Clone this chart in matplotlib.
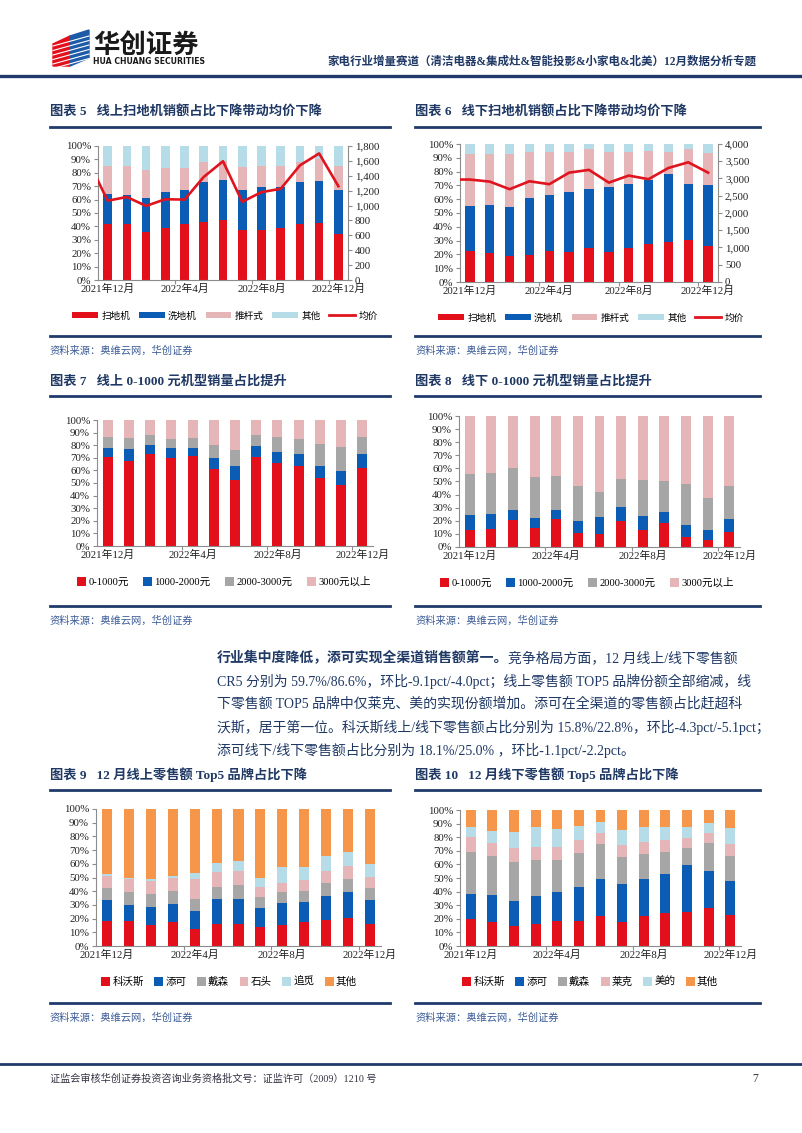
import matplotlib
matplotlib.use('Agg')
import matplotlib.pyplot as plt
import numpy as np
from matplotlib.patches import Polygon, Patch
from matplotlib.lines import Line2D
from matplotlib.font_manager import FontProperties

plt.rcParams['font.family'] = ['Noto Sans CJK SC', 'DejaVu Sans']

# ---------------- data ----------------
months = ['2021年12月', '2022年1月', '2022年2月', '2022年3月', '2022年4月', '2022年5月',
          '2022年6月', '2022年7月', '2022年8月', '2022年9月', '2022年10月', '2022年11月',
          '2022年12月']
tick_idx = [0, 4, 8, 12]

# Fig 5: online robot-vacuum category share of sales value (%) and avg price
cat_labels = ['扫地机', '洗地机', '推杆式', '其他']
on_sweep = [41.8, 41.8, 36.0, 38.5, 41.5, 43.3, 44.5, 37.5, 37.5, 38.8, 41.5, 42.8, 34.6]
on_mop = [22.4, 21.9, 25.2, 26.9, 25.4, 29.6, 29.9, 29.7, 31.9, 30.6, 31.9, 31.1, 32.6]
on_stick = [20.6, 21.1, 20.6, 18.4, 16.7, 15.1, 14.6, 17.1, 15.9, 15.6, 14.6, 16.6, 17.6]
on_other = [15.2, 15.2, 18.2, 16.2, 16.4, 12.0, 11.0, 15.7, 14.7, 15.0, 12.0, 9.5, 15.2]
# first value = 2021年11月 (partly visible at the left edge)
on_price = [1600, 1065, 1115, 995, 1085, 1080, 1385, 1595, 1050, 1180, 1225, 1540, 1700, 1260]

# Fig 6: offline
off_sweep = [22.7, 20.7, 18.6, 19.5, 22.7, 21.9, 24.8, 21.9, 24.8, 27.7, 28.7, 30.6, 26.3]
off_mop = [32.7, 35.2, 35.9, 41.7, 40.2, 43.4, 42.7, 47.3, 46.3, 46.3, 49.3, 40.5, 44.3]
off_stick = [37.6, 37.1, 38.3, 33.0, 31.3, 28.9, 28.9, 25.0, 23.1, 21.0, 16.2, 25.0, 22.9]
off_other = [7.0, 7.0, 7.2, 5.8, 5.8, 5.8, 3.6, 5.8, 5.8, 5.0, 5.8, 3.9, 6.5]
off_price = [2970, 2970, 2910, 2690, 2920, 2835, 3170, 3250, 2880, 3085, 2980, 3305, 3470, 3170]

# Fig 7 / 8: price-band share of sales volume (%)
band_labels = ['0-1000元', '1000-2000元', '2000-3000元', '3000元以上']
on_b1 = [70.6, 67.4, 72.7, 70.0, 71.4, 61.3, 52.5, 70.3, 65.5, 63.4, 54.1, 48.3, 61.8]
on_b2 = [7.4, 9.8, 7.7, 7.7, 6.6, 8.5, 11.2, 8.7, 8.8, 9.5, 9.6, 11.6, 11.4]
on_b3 = [8.7, 8.7, 7.6, 7.4, 7.9, 10.3, 12.4, 8.8, 11.9, 12.0, 16.9, 18.9, 13.0]
on_b4 = [13.3, 14.1, 12.0, 14.9, 14.1, 19.9, 23.9, 12.2, 13.8, 15.1, 19.4, 21.2, 13.8]

off_b1 = [12.8, 14.0, 20.7, 14.8, 21.2, 11.0, 10.2, 19.9, 13.0, 18.4, 7.7, 5.1, 11.7]
off_b2 = [11.7, 11.3, 7.9, 7.6, 7.4, 8.6, 12.8, 11.0, 11.0, 8.1, 9.4, 7.9, 10.0]
off_b3 = [30.9, 31.1, 31.6, 31.2, 25.5, 26.8, 19.3, 20.9, 27.5, 24.0, 30.9, 24.5, 24.5]
off_b4 = [44.6, 43.6, 39.8, 46.4, 45.9, 53.6, 57.7, 48.2, 48.5, 49.5, 52.0, 62.5, 53.8]

# Fig 9: online top5 brand share of retail value (%)
on_brand_labels = ['科沃斯', '添可', '戴森', '石头', '追觅', '其他']
on_ecovacs = [18.2, 18.2, 15.3, 17.3, 12.2, 16.3, 16.1, 13.9, 15.6, 17.3, 19.0, 20.1, 15.8]
on_tineco = [15.1, 11.7, 13.4, 13.4, 13.3, 18.0, 18.0, 14.1, 15.5, 14.8, 17.7, 19.2, 18.1]
on_dyson = [9.0, 9.8, 9.3, 9.4, 8.6, 8.5, 10.4, 8.0, 8.3, 8.3, 9.0, 9.8, 8.4]
on_roborock = [8.8, 9.0, 9.2, 9.5, 14.6, 11.0, 10.5, 6.8, 6.8, 8.0, 9.0, 9.5, 7.8]
on_dreame = [1.2, 0.9, 1.5, 1.5, 4.6, 6.8, 7.0, 6.8, 11.5, 9.3, 11.2, 10.2, 9.6]
on_others = [47.7, 50.4, 51.3, 48.9, 46.7, 39.4, 38.0, 50.4, 42.3, 42.3, 34.1, 31.2, 40.3]

# Fig 10: offline top5 brand share of retail value (%)
off_brand_labels = ['科沃斯', '添可', '戴森', '莱克', '美的', '其他']
off_ecovacs = [19.9, 17.9, 14.7, 16.2, 18.2, 18.7, 22.1, 17.7, 21.9, 24.6, 25.3, 27.9, 22.8]
off_tineco = [18.2, 19.4, 18.2, 20.7, 21.4, 25.0, 27.0, 28.2, 27.0, 28.2, 34.4, 27.2, 25.0]
off_dyson = [31.2, 28.8, 28.8, 26.7, 23.3, 24.6, 25.8, 19.5, 18.9, 16.5, 12.3, 20.8, 18.3]
off_lexy = [10.8, 9.8, 10.0, 8.9, 10.1, 9.6, 7.9, 8.6, 8.4, 8.3, 7.4, 7.4, 8.6]
off_midea = [7.1, 8.6, 12.3, 15.2, 13.2, 10.3, 8.4, 11.3, 11.3, 9.6, 8.1, 7.3, 11.9]
off_others = [12.8, 15.5, 16.0, 12.3, 13.8, 11.8, 8.8, 14.7, 12.5, 12.8, 12.5, 9.4, 13.4]

# ---------------- style ----------------
RED = '#E3101B'
BLUE = '#0B5CB5'
PINK = '#E6B5B8'
LBLUE = '#B5DCE7'
GRAY = '#A6A6A6'
ORANGE = '#F5964A'
LINE_RED = '#E0141E'
NAVY = '#1F3A6B'
TXT = '#1F3864'
NUM_FONT = ['Liberation Serif', 'Noto Sans CJK SC']
AXC = '#8C8C8C'

W, H = 802, 1133
fig = plt.figure(figsize=(W / 100, H / 100), dpi=100)
fig.patch.set_facecolor('white')


def fx(x):
    return x / W


def fy(y):
    return 1 - y / H


def add_ax(l, t, r, b):
    return fig.add_axes([fx(l), fy(b), fx(r - l), (b - t) / H])


def hline(x0, x1, y, lw=1.6, color=NAVY):
    fig.add_artist(Line2D([fx(x0), fx(x1)], [fy(y), fy(y)], color=color, lw=lw,
                          transform=fig.transFigure))


def style_axes(ax):
    for s in ['top', 'right']:
        ax.spines[s].set_visible(False)
    for s in ['left', 'bottom']:
        ax.spines[s].set_color(AXC)
        ax.spines[s].set_linewidth(0.8)
    ax.set_ylim(0, 100)
    ax.set_yticks(np.arange(0, 101, 10))
    ax.set_yticklabels([f'{v}%' for v in range(0, 101, 10)], fontfamily=NUM_FONT,
                       fontsize=7.8, color='#222222')
    ax.set_xlim(-0.5, len(months) - 0.5)
    ax.set_xticks([3.5, 7.5, 11.5])
    ax.set_xticklabels([])
    ax.set_xticks(tick_idx, minor=True)
    ax.set_xticklabels([months[i] for i in tick_idx], minor=True, fontfamily=NUM_FONT,
                       fontsize=7.8, color='#222222')
    ax.tick_params(axis='x', which='minor', length=0, pad=3)
    ax.tick_params(axis='x', which='major', length=3, color=AXC, width=0.8)
    ax.tick_params(axis='y', length=3, color=AXC, width=0.8, pad=2)


def stacked(ax, series, colors, labels, width):
    x = np.arange(len(months))
    bottom = np.zeros(len(months))
    handles = []
    for vals, c, lab in zip(series, colors, labels):
        v = np.array(vals, dtype=float)
        ax.bar(x, v, width, bottom=bottom, color=c, linewidth=0, zorder=2)
        handles.append(Patch(facecolor=c, edgecolor='none', label=lab))
        bottom += v
    style_axes(ax)
    return handles


def legend(handles, cx, cy, square=True, colsp=1.4, size=7.6):
    prop = FontProperties(family=NUM_FONT, size=size)
    if square:
        kw = dict(handlelength=0.85, handleheight=0.85, handletextpad=0.2)
    else:
        kw = dict(handlelength=2.7, handleheight=0.65, handletextpad=0.35)
    fig.legend(handles=handles, loc='center', bbox_to_anchor=(fx(cx), fy(cy)),
               ncol=len(handles), frameon=False, prop=prop,
               columnspacing=colsp, borderaxespad=0, **kw)


def title(x, y, text, x1):
    fig.text(fx(x), fy(y), text, fontsize=9.5, fontweight='bold', color=TXT,
             family=NUM_FONT, va='center', ha='left')
    hline(x, x1, y + 15, lw=2.0)


def source(x, y, x1):
    hline(x, x1, y - 15, lw=2.0)
    fig.text(fx(x), fy(y), '资料来源：奥维云网，华创证券', fontsize=7.4, color='#3A5A95',
             va='center', ha='left', style='italic')


def price_axis(ax, prices, ymax, step):
    axb = ax.twinx()
    axb.plot(np.arange(-1, len(months)), prices, color=LINE_RED, lw=1.9, zorder=5)
    axb.set_ylim(0, ymax)
    axb.set_yticks(np.arange(0, ymax + 1, step))
    axb.set_yticklabels([f'{v:,}' for v in range(0, ymax + 1, step)], fontfamily=NUM_FONT,
                        fontsize=7.8, color='#222222')
    axb.set_xlim(-0.5, len(months) - 0.5)
    for s in ['top', 'left', 'bottom']:
        axb.spines[s].set_visible(False)
    axb.spines['right'].set_color(AXC)
    axb.spines['right'].set_linewidth(0.8)
    axb.tick_params(axis='y', length=3, color=AXC, width=0.8, pad=2)
    return axb


# ---------------- header ----------------
fig.add_artist(Polygon([[fx(53), fy(44)], [fx(70), fy(36)], [fx(70), fy(66)], [fx(53), fy(66)]],
                       closed=True, color=RED, transform=fig.transFigure))
fig.add_artist(Polygon([[fx(70), fy(36)], [fx(89), fy(30)], [fx(89), fy(58)], [fx(70), fy(66)]],
                       closed=True, color='#1D5AA8', transform=fig.transFigure))
for k in range(6):
    yy = 40 + k * 4.5
    fig.add_artist(Line2D([fx(53), fx(89)], [fy(yy + 6), fy(yy - 4)], color='white', lw=0.8,
                          transform=fig.transFigure))
fig.text(fx(93), fy(45), '华创证券', fontsize=19, fontweight='bold', color='#1A1A1A',
         va='center', ha='left')
fig.text(fx(93), fy(62), 'HUA CHUANG SECURITIES', fontsize=5.6, fontweight='bold',
         color='#1A1A1A', va='center', ha='left', family=['DejaVu Sans'])
fig.text(fx(757), fy(62), '家电行业增量赛道（清洁电器&集成灶&智能投影&小家电&北美）12月数据分析专题',
         fontsize=8.3, fontweight='bold', color=TXT, va='center', ha='right', family=NUM_FONT)
hline(0, W, 76, lw=2.4)

# ---------------- figure 5 ----------------
title(50, 112, '图表 5   线上扫地机销额占比下降带动均价下降', 390)
ax5 = add_ax(98, 146, 348, 280)
h5 = stacked(ax5, [on_sweep, on_mop, on_stick, on_other], [RED, BLUE, PINK, LBLUE],
             cat_labels, 0.45)
price_axis(ax5, on_price, 1800, 200)
legend(h5 + [Line2D([0], [0], color=LINE_RED, lw=2, label='均价')], 225, 316, square=False,
       colsp=0.9, size=6.9)
source(50, 351, 390)

# ---------------- figure 6 ----------------
title(415, 112, '图表 6   线下扫地机销额占比下降带动均价下降', 760)
ax6 = add_ax(460, 144, 718, 282)
h6 = stacked(ax6, [off_sweep, off_mop, off_stick, off_other], [RED, BLUE, PINK, LBLUE],
             cat_labels, 0.47)
price_axis(ax6, off_price, 4000, 500)
legend(h6 + [Line2D([0], [0], color=LINE_RED, lw=2, label='均价')], 591, 318, square=False,
       colsp=0.9, size=6.9)
source(415, 351, 760)

# ---------------- figure 7 ----------------
title(50, 381, '图表 7   线上 0-1000 元机型销量占比提升', 390)
ax7 = add_ax(97, 420, 373, 546)
h7 = stacked(ax7, [on_b1, on_b2, on_b3, on_b4], [RED, BLUE, GRAY, PINK], band_labels, 0.47)
legend(h7, 224, 582)
source(50, 621, 390)

# ---------------- figure 8 ----------------
title(415, 381, '图表 8   线下 0-1000 元机型销量占比提升', 760)
ax8 = add_ax(459, 416, 740, 547)
h8 = stacked(ax8, [off_b1, off_b2, off_b3, off_b4], [RED, BLUE, GRAY, PINK], band_labels, 0.46)
legend(h8, 587, 583)
source(415, 621, 760)

# ---------------- paragraph ----------------
para_bold = '行业集中度降低，添可实现全渠道销售额第一。'
para_lines = [
    '竞争格局方面，12 月线上/线下零售额',
    'CR5 分别为 59.7%/86.6%，环比-9.1pct/-4.0pct；线上零售额 TOP5 品牌份额全部缩减，线',
    '下零售额 TOP5 品牌中仅莱克、美的实现份额增加。添可在全渠道的零售额占比赶超科',
    '沃斯，居于第一位。科沃斯线上/线下零售额占比分别为 15.8%/22.8%，环比-4.3pct/-5.1pct；',
    '添可线下/线下零售额占比分别为 18.1%/25.0% ，环比-1.1pct/-2.2pct。',
]
para_y = [658, 681, 704, 727, 750]
PSIZE = 10.0
renderer = fig.canvas.get_renderer()
tb = fig.text(fx(217), fy(para_y[0]), para_bold, fontsize=PSIZE, fontweight='bold', color=TXT,
              va='center', ha='left', family=NUM_FONT)
bb = tb.get_window_extent(renderer=renderer)
fig.text(bb.x1 / fig.bbox.width, fy(para_y[0]), para_lines[0], fontsize=PSIZE, color=TXT,
         va='center', ha='left', family=NUM_FONT)
for line, yy in zip(para_lines[1:], para_y[1:]):
    fig.text(fx(217), fy(yy), line, fontsize=PSIZE, color=TXT, va='center', ha='left',
             family=NUM_FONT)

# ---------------- figure 9 ----------------
title(50, 775, '图表 9   12 月线上零售额 Top5 品牌占比下降', 390)
ax9 = add_ax(96, 809, 381, 946)
h9 = stacked(ax9, [on_ecovacs, on_tineco, on_dyson, on_roborock, on_dreame, on_others],
             [RED, BLUE, GRAY, PINK, LBLUE, ORANGE], on_brand_labels, 0.46)
legend(h9, 229, 982, colsp=1.0)
source(50, 1018, 390)

# ---------------- figure 10 ----------------
title(415, 775, '图表 10   12 月线下零售额 Top5 品牌占比下降', 760)
ax10 = add_ax(460, 810, 741, 946)
h10 = stacked(ax10, [off_ecovacs, off_tineco, off_dyson, off_lexy, off_midea, off_others],
              [RED, BLUE, GRAY, PINK, LBLUE, ORANGE], off_brand_labels, 0.46)
legend(h10, 590, 982, colsp=1.0)
source(415, 1018, 760)

# ---------------- footer ----------------
hline(0, W, 1064, lw=2.0)
fig.text(fx(50), fy(1079), '证监会审核华创证券投资咨询业务资格批文号：证监许可（2009）1210 号',
         fontsize=7.3, color='#333344', va='center', ha='left', family=NUM_FONT)
fig.text(fx(755), fy(1079), '7', fontsize=8.5, color='#333344', va='center', ha='center',
         family=NUM_FONT)

fig.savefig('out.png', dpi=100, facecolor='white')
